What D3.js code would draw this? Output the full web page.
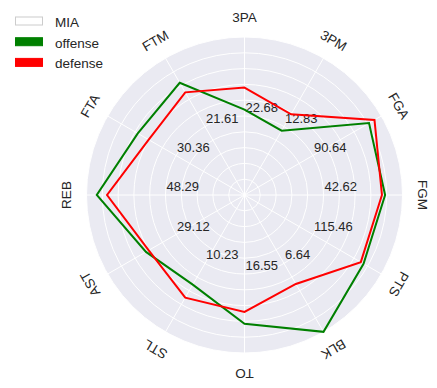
<!DOCTYPE html>
<html>
<head>
<meta charset="utf-8">
<script src="https://cdn.jsdelivr.net/npm/d3@7"></script>
<style>
  body { margin: 0; background: #fff; }
  svg { display: block; font-family: "Liberation Sans", Arial, sans-serif; }
</style>
</head>
<body>
<svg id="chart" width="437" height="388"></svg>
<script>
// axes, clockwise from the top
const categories = ["3PA", "3PM", "FGA", "FGM", "PTS", "BLK", "TO", "STL", "AST", "REB", "FTA", "FTM"];
// scaled values (0..1)
const offense = [0.54, 0.47, 0.91, 0.89, 0.87, 1.0, 0.815, 0.655, 0.72, 0.935, 0.78, 0.82];
const defense = [0.68, 0.59, 0.95, 0.87, 0.85, 0.65, 0.74, 0.75, 0.70, 0.87, 0.70, 0.75];
// value text shown on each axis
const tickLabels = ["22.68", "12.83", "90.64", "42.62", "115.46", "6.64", "16.55", "10.23", "29.12", "48.29", "30.36", "21.61"];
const tickAt = 0.5;
const rings = [0.1, 0.2, 0.3, 0.4, 0.5, 0.6, 0.7, 0.8, 0.9, 1.0];
const legendNames = ["MIA", "offense", "defense"];

const svg = d3.select("#chart");
const cx = 244.5, cy = 195, R = 158;

const r = d3.scaleLinear().domain([0, 1]).range([0, R]);
const angle = d3.scaleLinear().domain([0, categories.length]).range([0, 2 * Math.PI]);

const g = svg.append("g").attr("transform", `translate(${cx},${cy})`);

// background disc
g.append("circle").attr("r", R).attr("fill", "#eaeaf2");

// grid rings
g.selectAll("circle.ring")
  .data(rings)
  .join("circle")
    .attr("class", "ring")
    .attr("r", d => r(d))
    .attr("fill", "none")
    .attr("stroke", "#fff")
    .attr("stroke-width", 1);

// spokes
g.selectAll("line.spoke")
  .data(categories)
  .join("line")
    .attr("class", "spoke")
    .attr("x1", 0).attr("y1", 0)
    .attr("x2", (d, i) => R * Math.sin(angle(i)))
    .attr("y2", (d, i) => -R * Math.cos(angle(i)))
    .attr("stroke", "#fff")
    .attr("stroke-width", 1);

// value labels
g.selectAll("text.tick")
  .data(tickLabels)
  .join("text")
    .attr("class", "tick")
    .attr("x", (d, i) => r(tickAt) * Math.sin(angle(i)) + 1)
    .attr("y", (d, i) => -r(tickAt) * Math.cos(angle(i)) - 4)
    .attr("font-size", 13)
    .attr("fill", "#262626")
    .text(d => d);

// axis names
g.selectAll("text.cat")
  .data(categories)
  .join("text")
    .attr("class", "cat")
    .attr("transform", (d, i) => {
      const a = angle(i);
      const x = (R + 20) * Math.sin(a), y = -(R + 20) * Math.cos(a);
      return `translate(${x},${y}) rotate(${a * 180 / Math.PI})`;
    })
    .attr("text-anchor", "middle")
    .attr("dominant-baseline", "central")
    .attr("font-size", 13.5)
    .attr("fill", "#262626")
    .text(d => d);

const radial = d3.lineRadial()
  .angle((d, i) => angle(i))
  .radius(d => r(d))
  .curve(d3.curveLinearClosed);

g.append("path").datum(offense)
  .attr("d", radial).attr("fill", "none").attr("stroke", "green").attr("stroke-width", 2);
g.append("path").datum(defense)
  .attr("d", radial).attr("fill", "none").attr("stroke", "red").attr("stroke-width", 2);

// legend
const fills = ["#fff", "green", "red"];
const strokes = ["#cccccc", "green", "red"];
const leg = svg.append("g").selectAll("g")
  .data(legendNames)
  .join("g")
    .attr("transform", (d, i) => `translate(15,${21 + i * 20.7})`);
leg.append("rect")
  .attr("x", 0.5).attr("y", -4).attr("width", 27).attr("height", 8)
  .attr("fill", (d, i) => fills[i]).attr("stroke", (d, i) => strokes[i]).attr("stroke-width", 1);
leg.append("text")
  .attr("x", 40).attr("y", 1.5)
  .attr("dominant-baseline", "central")
  .attr("font-size", 13.5)
  .attr("fill", "#262626")
  .text(d => d);
</script>
</body>
</html>
